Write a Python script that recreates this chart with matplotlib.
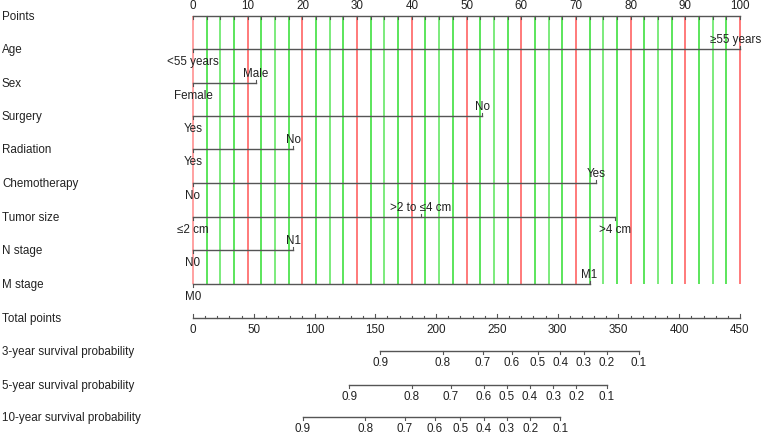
import matplotlib
matplotlib.use("Agg")
import matplotlib.pyplot as plt
import numpy as np

plt.rcParams['font.family'] = ['Liberation Sans', 'DejaVu Sans']

# ---- data ----
row_names = ["Points", "Age", "Sex", "Surgery", "Radiation", "Chemotherapy",
             "Tumor size", "N stage", "M stage", "Total points",
             "3-year survival probability", "5-year survival probability",
             "10-year survival probability"]

var_levels = {
    "Age": ["<55 years", "\u226555 years"],
    "Sex": ["Female", "Male"],
    "Surgery": ["Yes", "No"],
    "Radiation": ["Yes", "No"],
    "Chemotherapy": ["No", "Yes"],
    "Tumor size": ["\u22642 cm", ">2 to \u22644 cm", ">4 cm"],
    "N stage": ["N0", "N1"],
    "M stage": ["M0", "M1"],
}
var_points = {
    "Age": [0, 100],
    "Sex": [0, 11.5],
    "Surgery": [0, 52.9],
    "Radiation": [0, 18.3],
    "Chemotherapy": [0, 73.7],
    "Tumor size": [0, 41.7, 77.2],
    "N stage": [0, 18.3],
    "M stage": [0, 72.5],
}
label_side = {  # +1 above, -1 below
    "Age": [-1, 1], "Sex": [-1, 1], "Surgery": [-1, 1], "Radiation": [-1, 1],
    "Chemotherapy": [-1, 1], "Tumor size": [-1, 1, -1], "N stage": [-1, 1],
    "M stage": [-1, 1],
}

points_ticks = list(range(0, 101, 10))
total_ticks = list(range(0, 451, 50))
total_max = 450

surv_probs = [0.9, 0.8, 0.7, 0.6, 0.5, 0.4, 0.3, 0.2, 0.1]
surv3_total = [154.1, 205.6, 238.6, 262.4, 283.5, 302.2, 321.3, 340.6, 366.6]
surv5_total = [128.6, 180.1, 212.2, 239.1, 258.3, 277.0, 296.2, 315.3, 340.6]
surv10_total = [90.2, 141.7, 174.1, 198.8, 219.9, 239.1, 258.3, 277.5, 302.2]

# ---- layout ----
W, H = 764, 435
x0_px, x100_px = 193, 740
ppu = (x100_px - x0_px) / 100.0
row_y = [17, 50, 84, 117, 150, 184, 218, 251, 285, 319, 352, 386, 418]
fs = 8.4

fig = plt.figure(figsize=(W / 100, H / 100), dpi=100)
ax = fig.add_axes([0, 0, 1, 1])
ax.set_xlim(-x0_px / ppu, (W - x0_px) / ppu)
ax.set_ylim(H, 0)
ax.axis('off')

line_c = '#555555'
txt_c = '#222222'
lab_x = (2 - x0_px) / ppu
right_edge_x = (W - 3 - x0_px) / ppu

for name, y in zip(row_names, row_y):
    ax.text(lab_x, y, name, fontsize=fs, color=txt_c, ha='left', va='center')

# vertical reference lines
top_y, bot_y = row_y[0], row_y[8]
grid = np.arange(0, 100.01, 2.5)
for g in grid:
    if abs(g % 10) < 1e-9:
        col = '#ff6f6f' if g > 0 else '#ff9a9a'
        lw = 1.3
    else:
        col = '#3fe03f' if (round(g / 2.5) % 2 == 1) else '#66e866'
        lw = 1.2
    ax.plot([g, g], [top_y, bot_y], color=col, lw=lw, zorder=1, solid_capstyle='butt')

# points axis
ax.plot([0, 100], [row_y[0], row_y[0]], color=line_c, lw=1.0, zorder=3)
for g in grid:
    ax.plot([g, g], [row_y[0], row_y[0] + 3], color=line_c, lw=0.8, zorder=3)
for t in points_ticks:
    ax.text(t, row_y[0] - 11, str(t), fontsize=fs, color=txt_c, ha='center', va='center')

# variable rows
level_texts = []
for name, y in zip(row_names[1:9], row_y[1:9]):
    pts = var_points[name]
    ax.plot([0, max(pts)], [y, y], color=line_c, lw=1.0, zorder=3)
    for lv, p, s in zip(var_levels[name], pts, label_side[name]):
        ax.plot([p, p], [y, y - 3 * s], color=line_c, lw=0.8, zorder=3)
        ty = y - 10 * s if s > 0 else y + 12
        t = ax.text(p, ty, lv, fontsize=fs, color=txt_c, ha='center', va='center', zorder=4)
        level_texts.append(t)

# total points axis
def tp(v):
    return np.asarray(v, dtype=float) * 100.0 / total_max

yt = row_y[9]
ax.plot(tp([0, total_max]), [yt, yt], color=line_c, lw=1.0)
for t in range(0, total_max + 1, 10):
    ln = 4 if t % 50 == 0 else 2.5
    ax.plot(tp([t, t]), [yt, yt - ln], color=line_c, lw=0.8)
for t in total_ticks:
    ax.text(tp(t), yt + 11, str(t), fontsize=fs, color=txt_c, ha='center', va='center')

# survival axes
for y, totals in zip(row_y[10:], [surv3_total, surv5_total, surv10_total]):
    xs = tp(totals)
    ax.plot([xs.min(), xs.max()], [y, y], color=line_c, lw=1.0)
    for x, p in zip(xs, surv_probs):
        ax.plot([x, x], [y, y + 3], color=line_c, lw=0.8)
        ax.text(x, y + 11, f"{p:.1f}", fontsize=fs, color=txt_c, ha='center', va='center')

# keep labels inside the figure
fig.canvas.draw()
renderer = fig.canvas.get_renderer()
for t in level_texts:
    bb = t.get_window_extent(renderer)
    if bb.x1 > W - 2:
        t.set_ha('right')
        t.set_x(right_edge_x)

fig.savefig("out.png", dpi=100)
